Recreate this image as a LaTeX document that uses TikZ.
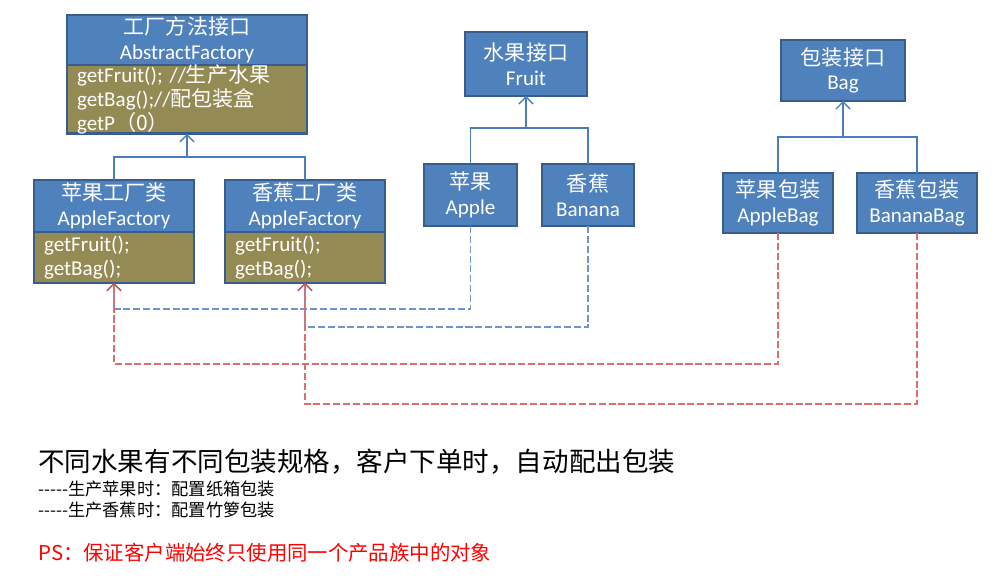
\documentclass[tikz,border=0pt]{standalone}
\usepackage{fontspec}
\setmainfont{Carlito}
\newfontfamily\cjk{Noto Sans CJK SC}
\usetikzlibrary{arrows.meta, positioning}
\definecolor{boxline}{RGB}{56,93,138}
\definecolor{hdrblue}{RGB}{79,129,189}
\definecolor{bodyolive}{RGB}{148,138,84}
\definecolor{linkblue}{RGB}{74,126,187}
\definecolor{dashblue}{RGB}{110,150,205}
\definecolor{dashred}{RGB}{222,110,110}
\definecolor{tipred}{RGB}{192,80,77}

\begin{document}
\begin{tikzpicture}[
    hdr/.style={
        draw=boxline,
        fill=hdrblue,
        line width=1.6pt,
        outer sep=0pt,
        inner sep=0pt,
        text=white,
        align=center,
        font=\fontsize{12}{14}\selectfont
      },
    methods/.style={
        draw=boxline,
        fill=bodyolive,
        line width=1.6pt,
        outer sep=0pt,
        inner xsep=0.2cm,
        inner ysep=0pt,
        text=white,
        align=left,
        font=\fontsize{12}{13.5}\selectfont
      },
    inherit/.style={-{Straight Barb[length=4pt,width=8pt]}, linkblue, line width=0.8pt},
    link/.style={linkblue, line width=0.8pt},
    dep/.style={-{Straight Barb[length=4pt,width=8pt]}, dash pattern=on 4pt off 1.6pt, line width=0.7pt},
    note/.style={anchor=west, inner sep=0pt, font=\cjk}
  ]
  \useasboundingbox (0,0) rectangle (20,-11.56);

  % factories
  \node[hdr, minimum width=4.8cm, minimum height=1.0cm] (abshdr) at (3.74,-0.8)
    {{\cjk 工厂方法接口}\\AbstractFactory};
  \node[methods, below=0pt of abshdr, text width=4.4cm, minimum height=1.36cm] (absbody)
    {getFruit(); //{\cjk 生产水果}\\getBag();//{\cjk 配包装盒}\\getP{\cjk （0）}};

  \node[hdr, minimum width=3.2cm, minimum height=1.04cm] (afhdr) at (2.28,-4.12)
    {{\cjk 苹果工厂类}\\AppleFactory};
  \node[methods, below=0pt of afhdr, text width=2.8cm, minimum height=1.02cm] (afbody)
    {getFruit();\\getBag();};

  \node[hdr, minimum width=3.2cm, minimum height=1.04cm] (bfhdr) at (6.1,-4.12)
    {{\cjk 香蕉工厂类}\\AppleFactory};
  \node[methods, below=0pt of bfhdr, text width=2.8cm, minimum height=1.02cm] (bfbody)
    {getFruit();\\getBag();};

  % fruits
  \node[hdr, minimum width=2.44cm, minimum height=1.28cm] (fruit) at (10.52,-1.28)
    {{\cjk 水果接口}\\Fruit};
  \node[hdr, minimum width=1.86cm, minimum height=1.24cm] (apple) at (9.41,-3.9)
    {{\cjk 苹果}\\Apple};
  \node[hdr, minimum width=1.84cm, minimum height=1.24cm] (banana) at (11.76,-3.9)
    {{\cjk 香蕉}\\Banana};

  % bags
  \node[hdr, minimum width=2.48cm, minimum height=1.22cm] (bag) at (16.86,-1.41)
    {{\cjk 包装接口}\\Bag};
  \node[hdr, minimum width=2.2cm, minimum height=1.2cm] (applebag) at (15.56,-4.06)
    {{\cjk 苹果包装}\\AppleBag};
  \node[hdr, minimum width=2.4cm, minimum height=1.2cm] (bananabag) at (18.34,-4.06)
    {{\cjk 香蕉包装}\\BananaBag};

  % inheritance
  \draw[inherit] (afhdr.north) -- ++(0,0.46) -| (absbody.south);
  \draw[link] (bfhdr.north) -- ++(0,0.46) -| (absbody.south);
  \draw[inherit] (apple.north) -- ++(0,0.72) -| (fruit.south);
  \draw[link] (banana.north) -- ++(0,0.72) -| (fruit.south);
  \draw[inherit] (applebag.north) -- ++(0,0.72) -| (bag.south);
  \draw[link] (bananabag.north) -- ++(0,0.72) -| (bag.south);

  % products used by the factories
  \draw[dep, dashblue] (apple.south) -- ++(0,-1.66) -| (afbody.south);
  \draw[dep, dashblue] (banana.south) -- ++(0,-2.02) -| (bfbody.south);
  \draw[dep, dashred, -{Straight Barb[length=4pt,width=8pt,color=tipred]}] (applebag.south) -- ++(0,-2.62) -| (afbody.south);
  \draw[dep, dashred, -{Straight Barb[length=4pt,width=8pt,color=tipred]}] (bananabag.south) -- ++(0,-3.42) -| (bfbody.south);

  % notes
  \node[note, font=\cjk\fontsize{15.1}{17}\selectfont] (title) at (0.76,-9.24)
    {不同水果有不同包装规格，客户下单时，自动配出包装};
  \node[note, font=\cjk\fontsize{9.8}{12}\selectfont] (notea) at (0.76,-9.78)
    {-----生产苹果时：配置纸箱包装};
  \node[note, font=\cjk\fontsize{9.8}{12}\selectfont] (noteb) at (0.76,-10.2)
    {-----生产香蕉时：配置竹箩包装};
  \node[note, font=\cjk\fontsize{11.6}{14}\selectfont, text=red] (psnote) at (0.76,-11.06)
    {PS：保证客户端始终只使用同一个产品族中的对象};
\end{tikzpicture}
\end{document}
